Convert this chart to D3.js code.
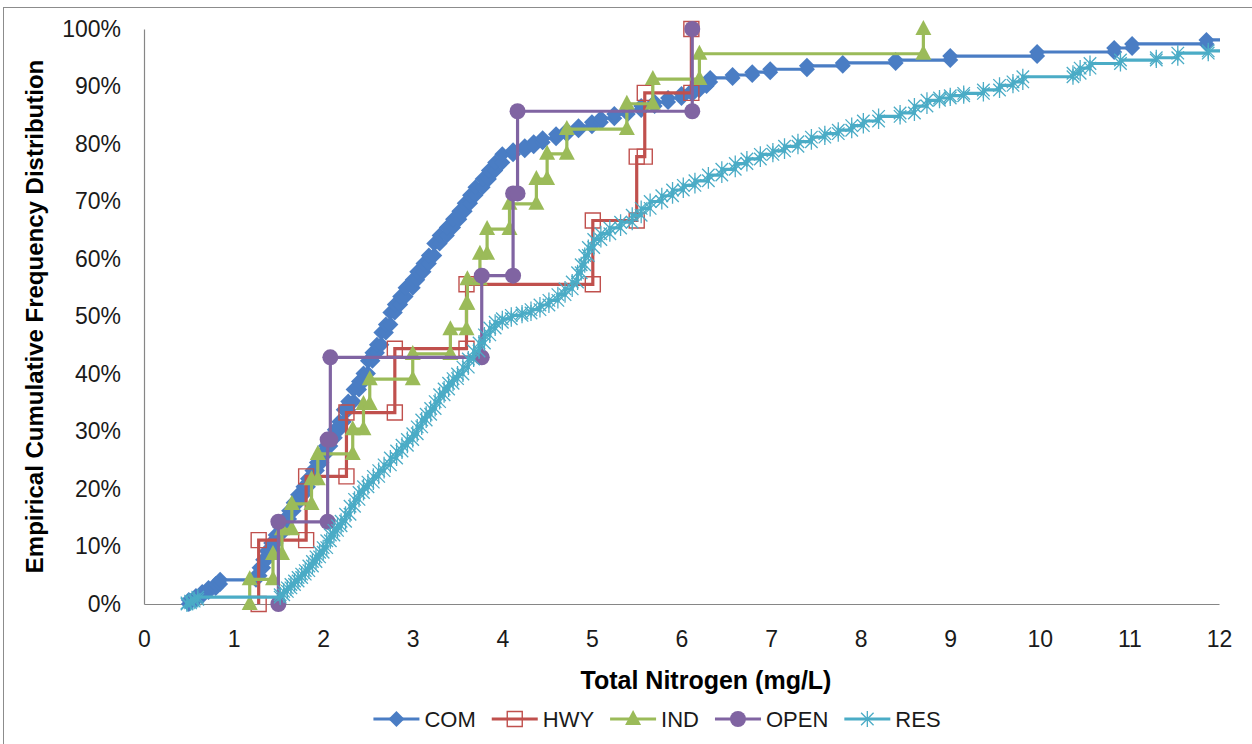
<!DOCTYPE html>
<html><head><meta charset="utf-8">
<script src="https://cdn.jsdelivr.net/npm/d3@7"></script>
<style>html,body{margin:0;padding:0;background:#fff;} svg{display:block;}</style>
</head><body>
<svg id="chart" width="1252" height="744"></svg>
<script>
// ---------- data ----------
const categories = ["COM", "HWY", "IND", "OPEN", "RES"];
const seriesColors = ["#4A7DC4", "#C0504D", "#9BBB59", "#8064A2", "#4BACC6"];
const xTickValues = [0,1,2,3,4,5,6,7,8,9,10,11,12];
const yTickValues = [0,10,20,30,40,50,60,70,80,90,100];
const yTickLabels = ["0%","10%","20%","30%","40%","50%","60%","70%","80%","90%","100%"];
const xTitle = "Total Nitrogen (mg/L)";
const yTitle = "Empirical Cumulative Frequency Distribution";

// sorted concentrations (mg/L) and cumulative frequency (%) at each step
const comX = [0.50,0.58,0.65,0.72,0.80,0.85,1.25,1.29,1.33,1.37,1.42,1.47,1.52,1.57,1.62,1.67,1.72,1.78,1.83,1.88,1.93,1.98,2.03,2.08,2.13,2.18,2.23,2.28,2.34,2.40,2.45,2.50,2.55,2.60,2.65,2.70,2.75,2.80,2.86,2.92,3.00,3.05,3.12,3.18,3.24,3.30,3.38,3.45,3.52,3.58,3.64,3.70,3.78,3.85,3.92,4.00,4.12,4.25,4.35,4.45,4.60,4.72,4.85,5.00,5.10,5.25,5.40,5.55,5.70,5.85,6.00,6.12,6.20,6.28,6.32,6.57,6.79,6.99,7.40,7.80,8.39,9.00,9.97,10.83,11.03,11.86,12.60];
const comP = [0.7,1.4,2.1,2.8,3.5,4.2,4.9,6.3,7.7,9.2,10.6,12.0,13.4,14.8,16.2,17.6,19.0,20.4,21.8,23.2,24.6,26.1,27.5,28.9,30.3,31.7,33.8,35.2,37.3,38.7,40.1,42.3,43.7,45.1,47.2,48.6,50.7,52.1,53.5,55.0,56.4,57.8,59.2,60.6,62.7,64.1,65.5,66.9,68.3,69.7,71.1,72.5,73.9,75.4,76.8,78.2,78.9,79.6,80.3,81.0,81.7,82.4,83.1,83.8,84.5,85.2,85.9,86.6,87.3,88.0,88.7,89.4,90.1,90.8,91.5,92.0,92.5,93.0,93.6,94.1,94.6,95.3,96.0,96.7,97.4,98.1,98.8];

const hwyX = [1.28,1.81,2.26,2.80,3.60,5.01,5.50,5.59,6.11];
const hwyP = [11.1,22.2,33.3,44.4,55.6,66.7,77.8,88.9,100];

const indX = [1.18,1.44,1.54,1.65,1.87,1.94,2.33,2.45,2.52,3.00,3.42,3.60,3.61,3.75,3.83,4.08,4.38,4.50,4.72,5.39,5.68,6.20,8.70];
const indP = [4.3,8.7,13.0,17.4,21.7,26.1,30.4,34.8,39.1,43.5,47.8,52.2,56.5,60.9,65.2,69.6,73.9,78.3,82.6,87.0,91.3,95.7,100];

const openX = [1.50,2.05,2.08,3.77,4.12,4.17,6.12];
const openP = [14.3,28.6,42.9,57.1,71.4,85.7,100];

const resX = [0.48,0.52,0.56,0.60,1.52,1.56,1.60,1.64,1.68,1.72,1.76,1.80,1.84,1.88,1.92,1.96,2.00,2.04,2.08,2.12,2.16,2.20,2.25,2.30,2.35,2.40,2.45,2.50,2.56,2.62,2.68,2.75,2.82,2.88,2.94,3.00,3.05,3.10,3.15,3.20,3.25,3.30,3.35,3.40,3.45,3.50,3.56,3.62,3.68,3.74,3.80,3.86,3.92,4.00,4.10,4.22,4.32,4.42,4.52,4.62,4.70,4.78,4.84,4.88,4.92,4.96,5.02,5.10,5.20,5.32,5.45,5.55,5.65,5.78,5.90,6.02,6.15,6.30,6.45,6.60,6.73,6.88,7.02,7.15,7.30,7.45,7.60,7.75,7.90,8.03,8.20,8.44,8.60,8.74,8.88,9.00,9.15,9.37,9.55,9.70,9.81,10.37,10.45,10.56,10.90,11.30,11.54,11.88,12.40];
const resP = [0.2,0.5,0.8,1.2,1.6,2.2,2.8,3.4,4.0,4.6,5.2,5.8,6.6,7.4,8.2,9.0,9.8,11.0,12.0,12.8,13.6,14.4,15.6,17.0,18.2,19.4,20.4,21.2,22.2,23.2,24.2,25.4,26.6,27.6,28.6,29.6,30.8,32.0,33.0,34.0,35.2,36.4,37.4,38.4,39.2,40.0,41.2,42.6,44.0,45.4,46.8,48.0,49.0,49.6,50.2,50.6,51.2,52.0,52.8,53.8,54.8,56.0,57.6,59.0,60.6,62.0,63.4,64.4,65.4,66.4,67.6,68.8,70.0,71.0,72.0,72.8,73.6,74.6,75.6,76.6,77.4,78.2,78.8,79.6,80.4,81.2,81.8,82.4,83.2,84.0,84.8,85.4,86.6,87.6,88.0,88.4,88.8,89.4,90.2,90.8,91.7,92.3,93.2,94.0,94.6,95.0,95.8,96.2,96.8];

const seriesX = [comX, hwyX, indX, openX, resX];
const seriesP = [comP, hwyP, indP, openP, resP];

// ---------- layout ----------
const W = 1252, H = 744;
const plot = {left: 144, top: 29, right: 1219, bottom: 604};
const FONT = "'Liberation Sans', Arial, sans-serif";

const svg = d3.select("#chart");
const x = d3.scaleLinear().domain([0, 12]).range([plot.left, plot.right]);
const y = d3.scaleLinear().domain([0, 100]).range([plot.bottom, plot.top]);

// outer frame (chart border, only top/left visible in crop)
svg.append("rect").attr("x", 3.5).attr("y", 7.5).attr("width", W + 20).attr("height", H + 20)
  .attr("fill", "none").attr("stroke", "#8c8c8c").attr("stroke-width", 1);

// axes
const xAxis = d3.axisBottom(x).tickValues(xTickValues).tickFormat(d3.format("d")).tickSize(0).tickPadding(27);
const gx = svg.append("g").attr("transform", `translate(0,${plot.bottom})`).call(xAxis);
gx.select(".domain").attr("stroke", "#868686").attr("stroke-width", 1.2);
gx.selectAll("text").attr("font-family", FONT).attr("font-size", 23).attr("fill", "#1a1a1a");

const yAxis = d3.axisLeft(y).tickValues(yTickValues).tickFormat((d, i) => yTickLabels[i]).tickSize(0).tickPadding(23);
const gy = svg.append("g").attr("transform", `translate(${plot.left},0)`).call(yAxis);
gy.select(".domain").attr("stroke", "#868686").attr("stroke-width", 1.2);
gy.selectAll("text").attr("font-family", FONT).attr("font-size", 23).attr("fill", "#1a1a1a");

// titles
svg.append("text").attr("x", 706).attr("y", 689)
  .attr("text-anchor", "middle").attr("font-family", FONT).attr("font-weight", "bold")
  .attr("font-size", 25).attr("fill", "#000").text(xTitle);
svg.append("text").attr("transform", `translate(43,${(plot.top + plot.bottom) / 2}) rotate(-90)`)
  .attr("text-anchor", "middle").attr("font-family", FONT).attr("font-weight", "bold")
  .attr("font-size", 24).attr("fill", "#000").text(yTitle);

// clip (right edge only)
svg.append("clipPath").attr("id", "clipR").append("rect")
  .attr("x", 0).attr("y", 0).attr("width", plot.right + 1).attr("height", H);

// marker drawing
const R = 8;
function markerPath(kind) {
  switch (kind) {
    case 0: return `M0,${-R}L${R},0L0,${R}L${-R},0Z`;
    case 1: return `M${-7.5},${-7.5}h15v15h-15Z`;
    case 2: return `M0,${-R - 1}L${R},${R - 2}L${-R},${R - 2}Z`;
    case 3: return d3.symbol(d3.symbolCircle, Math.PI * R * R)();
    case 4: { const d = R * 0.78; return `M0,${-R}V${R}M${-d},${-d}L${d},${d}M${-d},${d}L${d},${-d}`; }
  }
}
function markerAttrs(sel, k) {
  const c = seriesColors[k];
  if (k === 1) sel.attr("fill", "none").attr("stroke", c).attr("stroke-width", 1.4);
  else if (k === 4) sel.attr("fill", "none").attr("stroke", c).attr("stroke-width", 1.3);
  else sel.attr("fill", c).attr("stroke", "none");
}

const line = d3.line().x(d => x(d[0])).y(d => y(d[1]));
const gData = svg.append("g").attr("clip-path", "url(#clipR)");

categories.forEach((name, k) => {
  const xs = seriesX[k], ps = seriesP[k];
  const pts = [];
  let prev = 0;
  xs.forEach((v, i) => { pts.push([v, prev]); pts.push([v, ps[i]]); prev = ps[i]; });
  const g = gData.append("g");
  g.append("path").attr("d", line(pts)).attr("fill", "none")
    .attr("stroke", seriesColors[k]).attr("stroke-width", 3.2).attr("stroke-linejoin", "miter");
  g.selectAll("path.m").data(pts).join("path").attr("class", "m")
    .attr("d", markerPath(k))
    .attr("transform", d => `translate(${x(d[0])},${y(d[1])})`)
    .call(markerAttrs, k);
});

// legend
const legY = 719;
const leg = svg.append("g");
const items = [];
categories.forEach((name, k) => {
  const g = leg.append("g");
  g.append("line").attr("x1", 0).attr("x2", 46).attr("y1", 0).attr("y2", 0)
    .attr("stroke", seriesColors[k]).attr("stroke-width", 3.2);
  g.append("path").attr("d", markerPath(k)).attr("transform", "translate(23,0)").call(markerAttrs, k);
  const t = g.append("text").attr("x", 51).attr("y", 8).attr("font-family", FONT)
    .attr("font-size", 22).attr("fill", "#1a1a1a").text(name);
  const w = 51 + t.node().getComputedTextLength();
  items.push({g, w});
});
const gap = 16;
const total = d3.sum(items, d => d.w) + gap * (items.length - 1);
let start = 657 - total / 2;
items.forEach(it => { it.g.attr("transform", `translate(${start},${legY})`); start += it.w + gap; });
</script>
</body></html>
